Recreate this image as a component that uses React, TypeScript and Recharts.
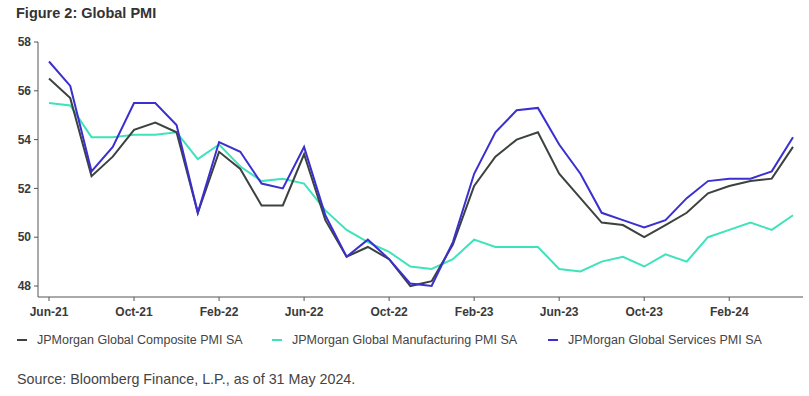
import React from 'react';
import { LineChart, Line, XAxis, YAxis } from 'recharts';

const months = [
  'Jun-21', 'Jul-21', 'Aug-21', 'Sep-21', 'Oct-21', 'Nov-21', 'Dec-21',
  'Jan-22', 'Feb-22', 'Mar-22', 'Apr-22', 'May-22', 'Jun-22', 'Jul-22', 'Aug-22', 'Sep-22', 'Oct-22', 'Nov-22', 'Dec-22',
  'Jan-23', 'Feb-23', 'Mar-23', 'Apr-23', 'May-23', 'Jun-23', 'Jul-23', 'Aug-23', 'Sep-23', 'Oct-23', 'Nov-23', 'Dec-23',
  'Jan-24', 'Feb-24', 'Mar-24', 'Apr-24', 'May-24',
];

const composite = [
  56.5, 55.7, 52.5, 53.3, 54.4, 54.7, 54.3,
  51.0, 53.5, 52.8, 51.3, 51.3, 53.4, 50.7, 49.2, 49.6, 49.1, 48.0, 48.2,
  49.7, 52.1, 53.3, 54.0, 54.3, 52.6, 51.6, 50.6, 50.5, 50.0, 50.5, 51.0,
  51.8, 52.1, 52.3, 52.4, 53.7,
];

const manufacturing = [
  55.5, 55.4, 54.1, 54.1, 54.2, 54.2, 54.3,
  53.2, 53.8, 52.9, 52.3, 52.4, 52.2, 51.1, 50.3, 49.8, 49.4, 48.8, 48.7,
  49.1, 49.9, 49.6, 49.6, 49.6, 48.7, 48.6, 49.0, 49.2, 48.8, 49.3, 49.0,
  50.0, 50.3, 50.6, 50.3, 50.9,
];

const services = [
  57.2, 56.2, 52.7, 53.7, 55.5, 55.5, 54.6,
  51.0, 53.9, 53.5, 52.2, 52.0, 53.7, 50.9, 49.2, 49.9, 49.1, 48.1, 48.0,
  49.8, 52.6, 54.3, 55.2, 55.3, 53.8, 52.6, 51.0, 50.7, 50.4, 50.7, 51.6,
  52.3, 52.4, 52.4, 52.7, 54.1,
];

const yTicks = [48, 50, 52, 54, 56, 58];

const seriesInfo = [
  { key: 'composite', name: 'JPMorgan Global Composite PMI SA', color: '#3b423f' },
  { key: 'manufacturing', name: 'JPMorgan Global Manufacturing PMI SA', color: '#3fe3bb' },
  { key: 'services', name: 'JPMorgan Global Services PMI SA', color: '#3b2fcf' },
];

const data = months.map((m, i) => ({
  month: m,
  composite: composite[i],
  manufacturing: manufacturing[i],
  services: services[i],
}));

const tickStyle = { fill: '#3a3a3a', fontSize: 12, fontWeight: 700, fontFamily: 'Arial, "Liberation Sans", sans-serif' };

const legendLeft = [17, 272, 548];

export default function App() {
  return (
    <div style={{ position: 'absolute', left: 0, top: 0, width: 809, height: 396, background: '#fff', fontFamily: 'Arial, "Liberation Sans", sans-serif' }}>
      <div style={{ position: 'absolute', left: 16, top: 5, fontSize: 14.5, fontWeight: 700, color: '#333' }}>
        Figure 2: Global PMI
      </div>
      <div style={{ position: 'absolute', left: 0, top: 0 }}>
        <LineChart width={809} height={325} data={data} margin={{ top: 42, right: 6, left: 0, bottom: 0 }}>
          <XAxis
            dataKey="month"
            interval={3}
            padding={{ left: 11, right: 10 }}
            tick={tickStyle}
            tickSize={4}
            tickMargin={6}
            stroke="#555"
            height={28}
          />
          <YAxis
            domain={[47.55, 58]}
            ticks={yTicks}
            allowDataOverflow
            tick={tickStyle}
            tickSize={4}
            tickMargin={3}
            stroke="#555"
            width={38}
          />
          <Line dataKey="manufacturing" stroke={seriesInfo[1].color} strokeWidth={2} dot={false} isAnimationActive={false} />
          <Line dataKey="composite" stroke={seriesInfo[0].color} strokeWidth={2} dot={false} isAnimationActive={false} />
          <Line dataKey="services" stroke={seriesInfo[2].color} strokeWidth={2} dot={false} isAnimationActive={false} />
        </LineChart>
      </div>
      {seriesInfo.map((s, i) => (
        <div key={s.key} style={{ position: 'absolute', left: legendLeft[i], top: 333, display: 'flex', alignItems: 'center', fontSize: 12.5, color: '#444' }}>
          <span style={{ display: 'inline-block', width: 10, height: 2, background: s.color, marginRight: 10 }} />
          {s.name}
        </div>
      ))}
      <div style={{ position: 'absolute', left: 17, top: 371, fontSize: 14.3, color: '#444' }}>
        Source: Bloomberg Finance, L.P., as of 31 May 2024.
      </div>
    </div>
  );
}
